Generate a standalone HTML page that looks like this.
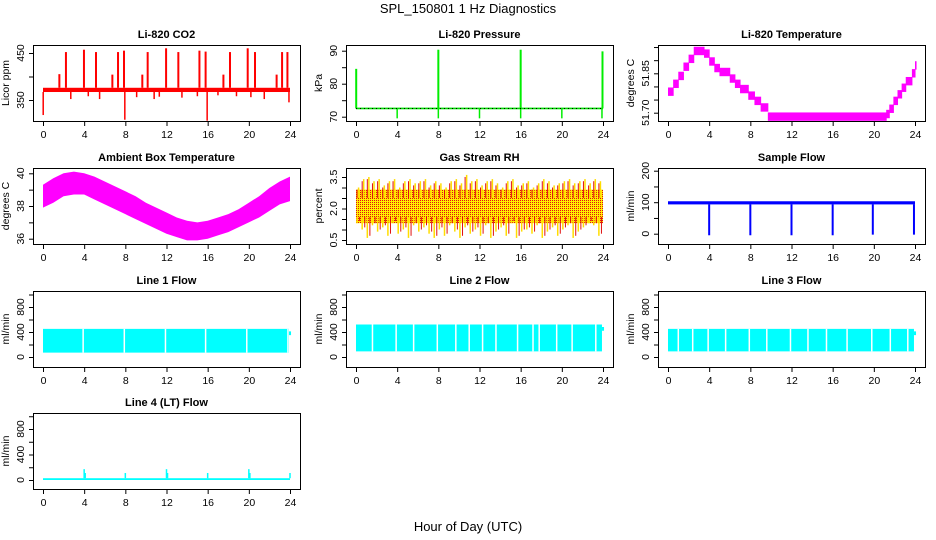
<!DOCTYPE html>
<html><head><meta charset="utf-8">
<style>
html,body{margin:0;padding:0;background:#fff;}
svg{display:block;font-family:"Liberation Sans",Arial,sans-serif;}
.tl{font-size:10.5px;fill:#000;}
.tt{font-size:11px;font-weight:bold;fill:#000;}
</style></head>
<body>
<svg id="c" width="936" height="540" viewBox="0 0 936 540">
<text x="468" y="13" text-anchor="middle" font-size="13">SPL_150801  1 Hz Diagnostics</text>
<text x="468" y="531" text-anchor="middle" font-size="13">Hour of Day (UTC)</text>
</svg>
<script>
// ---------- data ----------
const xTicks = [0,4,8,12,16,20,24];
// CO2
const co2BaseLow = 367, co2BaseHigh = 376;
const co2SpikeHours = [1.59,2.23,3.98,5.15,6.74,7.29,7.87,9.65,10.17,11.96,13.15,15.2,15.8,17.53,18.17,19.89,20.6,22.7,23.23,23.75];
const co2SpikeVals  = [405,452,457,452,404,452,455,404,452,460,452,455,453,404,452,460,452,404,452,452];
const co2DipHours = [0.02,2.7,4.4,5.5,7.95,9.1,10.8,11.3,13.5,15.0,15.95,17.0,18.8,20.2,21.5,23.9];
const co2DipVals  = [318,352,358,352,308,356,352,357,355,358,306,360,358,356,352,345];
// Pressure
const presBase = 72.5;
const presSpikeHours = [0.02,8.0,16.0,23.95];
const presSpikeVals = [84.5,90.3,90.3,89.8];
const presDipHours = [4.0,8.0,12.0,16.0,20.0,23.9];
const presDipVals = [69.5,69.5,69.5,69.5,69.5,69.5];
// Li-820 temperature (step)
const ltHours = [0,0.5,1.0,1.5,2.0,2.5,3.5,4.0,4.5,5.0,6.0,6.5,7.0,7.8,8.4,9.0,9.7,21.2,21.5,21.9,22.3,22.7,23.1,23.7,24.0];
const ltVals  = [51.78,51.81,51.84,51.875,51.905,51.935,51.925,51.895,51.87,51.855,51.83,51.81,51.79,51.765,51.745,51.72,51.685,51.695,51.715,51.745,51.77,51.795,51.82,51.85,51.88];
// Ambient temperature envelope (hourly)
const ambHours = [0,1,2,3,4,5,6,7,8,9,10,11,12,13,14,15,16,17,18,19,20,21,22,23,24];
const ambLow  = [37.9,38.2,38.6,38.7,38.7,38.4,38.1,37.8,37.5,37.2,36.9,36.6,36.3,36.1,35.9,35.9,36.0,36.2,36.4,36.7,37.0,37.3,37.7,38.1,38.3];
const ambHigh = [39.3,39.7,40.0,40.1,40.0,39.8,39.5,39.2,38.9,38.6,38.2,37.9,37.6,37.3,37.1,37.0,37.1,37.3,37.5,37.8,38.2,38.6,39.1,39.5,39.8];
// Gas stream RH (half-hour max / min)
const rhMax = [3.0,3.4,3.5,3.3,3.4,3.1,3.3,3.4,3.0,3.3,3.4,3.2,3.3,3.4,3.1,3.3,3.2,3.0,3.3,3.4,3.2,3.6,3.3,3.4,3.1,3.3,3.4,3.2,3.0,3.3,3.4,3.1,3.2,3.3,3.0,3.2,3.4,3.3,3.1,3.2,3.3,3.4,3.2,3.3,3.4,3.2,3.4,3.3];
const rhMin = [1.3,1.0,0.6,1.2,0.9,1.1,0.7,1.3,0.8,1.0,0.6,1.2,0.9,1.1,0.8,0.6,1.0,0.7,1.2,0.9,0.6,1.1,0.8,1.0,0.7,1.2,0.6,0.9,1.1,0.7,1.3,0.6,0.9,1.0,0.8,1.2,0.6,0.9,1.1,0.7,1.0,1.2,0.6,0.9,1.1,1.3,1.2,0.7];
// Sample flow
const sfLow = 93, sfHigh = 103;
const sfDipHours = [4.0,8.0,12.0,16.0,19.9,23.9];
const sfDipVals = [-5,-5,-5,-5,-3,-3];
// Line flows
const l1Low = 70, l1High = 450;
const l1GapHours = [3.9,7.9,11.9,15.8,19.8,23.8];
const l2Low = 90, l2High = 520;
const l2GapHours = [1.6,3.9,5.6,7.9,9.7,11.0,12.3,13.6,15.7,17.2,17.8,19.5,21.0,23.3];
const l3Low = 90, l3High = 450;
const l3GapHours = [1.0,2.4,3.9,5.6,7.9,9.6,11.9,13.6,15.4,17.4,19.8,21.6,23.3];
const l4Low = 0, l4High = 28;
const l4SpikeHours = [4.0,4.1,8.0,12.0,12.1,16.0,20.0,20.1,24.0];
const l4SpikeVals = [170,110,110,170,110,110,170,110,110];

// ---------- layout ----------
const NS = "http://www.w3.org/2000/svg";
const svg = document.getElementById('c');
const colX = [33,346,658], rowY = [45,168,291,413], BW = 267, BH = 76;
function mk(tag, attrs, parent){
  const e = document.createElementNS(NS, tag);
  for (const k in attrs) e.setAttribute(k, attrs[k]);
  (parent||svg).appendChild(e);
  return e;
}
function panel(col,row,title,ylab,yRef,ticks,labels,fmt,name){
  const g = mk('g',{});
  
  
  const x0 = colX[col], y0 = rowY[row];
  const xs = t => x0 + 10 + t*247/24;
  const k = (yRef[3]-yRef[1])/(yRef[2]-yRef[0]);
  const ys = v => y0 + yRef[1] + (v - yRef[0])*k;
  const plot = mk('g',{'clip-path':'url(#clip'+col+row+')'},g);
  
  
  const cp = mk('clipPath',{id:'clip'+col+row},g);
  mk('rect',{x:x0,y:y0,width:BW,height:BH},cp);
  const box = mk('rect',{x:x0+0.5,y:y0+0.5,width:BW,height:BH,fill:'none',stroke:'#000','stroke-width':1},g);
  
  
  const tt = mk('text',{x:x0+BW/2,y:y0-7,'text-anchor':'middle',class:'tt'},g);
  tt.textContent = title;
  
  
  mk('line',{x1:xs(0),x2:xs(24),y1:y0+BH+0.5,y2:y0+BH+0.5,stroke:'#000'},g);
  xTicks.forEach(t=>{
    mk('line',{x1:xs(t)+0.5,x2:xs(t)+0.5,y1:y0+BH,y2:y0+BH+5,stroke:'#000'},g);
    const l = mk('text',{x:xs(t)+0.5,y:y0+BH+17,'text-anchor':'middle',class:'tl'},g);
    l.textContent = t;
    
    
  });
  ticks.forEach(v=>{
    mk('line',{x1:x0-4,x2:x0,y1:ys(v)+0.5,y2:ys(v)+0.5,stroke:'#000'},g);
  });
  mk('line',{x1:x0+0.5,x2:x0+0.5,y1:ys(ticks[0]),y2:ys(ticks[ticks.length-1]),stroke:'#000'},g);
  labels.forEach(v=>{
    const yy = ys(v), xx = x0-9;
    const l = mk('text',{x:xx,y:yy,'text-anchor':'middle',class:'tl',transform:'rotate(-90 '+xx+' '+yy+')'},g);
    l.textContent = fmt(v);
    
    
  });
  const yl = mk('text',{x:x0-24,y:y0+BH/2,'text-anchor':'middle',class:'tl',transform:'rotate(-90 '+(x0-24)+' '+(y0+BH/2)+')'},g);
  yl.textContent = ylab;
  
  
  return {xs,ys,plot};
}
function vline(p,t,a,b,color,w){
  mk('line',{x1:p.xs(t),x2:p.xs(t),y1:p.ys(a),y2:p.ys(b),stroke:color,'stroke-width':w||1.5},p.plot);
}
function band(p,t0,t1,lo,hi,color){
  const y1 = p.ys(hi), y2 = p.ys(lo);
  mk('rect',{x:p.xs(t0),y:Math.min(y1,y2),width:p.xs(t1)-p.xs(t0),height:Math.abs(y2-y1),fill:color},p.plot);
}
const defs = mk('defs',{});
const pat = mk('pattern',{id:'rhdots',width:2,height:2,patternUnits:'userSpaceOnUse'},defs);
mk('rect',{x:0,y:0,width:1,height:1,fill:'#e01010'},pat);

let p = panel(0,0,'Li-820 CO2','Licor ppm',[450,8,350,55],[350,400,450],[350,450],v=>v,'co2');
band(p,0,24,co2BaseLow,co2BaseHigh,'#ff0000');
co2SpikeHours.forEach((t,i)=>vline(p,t,co2BaseHigh,co2SpikeVals[i],'#ff0000',2));
co2DipHours.forEach((t,i)=>vline(p,t,co2BaseLow,co2DipVals[i],'#ff0000',1.5));

p = panel(1,0,'Li-820 Pressure','kPa',[90,5.7,70,71.7],[70,75,80,85,90],[70,80,90],v=>v,'pressure');
band(p,0,24,presBase-0.25,presBase+0.25,'#00dd00');
presSpikeHours.forEach((t,i)=>vline(p,t,presBase,presSpikeVals[i],'#00ee00',2));
presDipHours.forEach((t,i)=>vline(p,t,presBase,presDipVals[i],'#00ee00',1.5));
mk('line',{x1:p.xs(0),x2:p.xs(24),y1:p.ys(presBase),y2:p.ys(presBase),stroke:'#000','stroke-dasharray':'1,3','stroke-width':1},p.plot);

p = panel(2,0,'Li-820 Temperature','degrees C',[51.85,28.3,51.70,67.7],[51.70,51.75,51.80,51.85,51.90,51.95],[51.70,51.85],v=>v.toFixed(2),'li820-temp');
for(let i=0;i<ltHours.length;i++){
  const t0 = ltHours[i], t1 = i<ltHours.length-1 ? ltHours[i+1]+0.05 : ltHours[i]+0.15;
  band(p,t0,t1,ltVals[i]-0.016,ltVals[i]+0.016,'#ff00ff');
}

p = panel(0,1,'Ambient Box Temperature','degrees C',[40,5.3,36,70.7],[36,37,38,39,40],[36,38,40],v=>v,'ambient-temp');
let pts = ambHours.map((t,i)=>p.xs(t)+','+p.ys(ambHigh[i])).concat(ambHours.slice().reverse().map((t,j)=>{const i=ambHours.length-1-j;return p.xs(t)+','+p.ys(ambLow[i]);}));
mk('polygon',{points:pts.join(' '),fill:'#ff00ff'},p.plot);

p = panel(1,1,'Gas Stream RH','percent',[3.5,9,0.5,72],[0.5,1.0,1.5,2.0,2.5,3.0,3.5],[0.5,2.0,3.5],v=>v.toFixed(1),'gas-stream-rh');
band(p,0,24,1.3,2.9,'#ffee00');
band(p,0,24,1.3,2.9,'url(#rhdots)');
rhMax.forEach((v,i)=>{vline(p,i*0.5+0.25,2.5,v,'#ffdd00',1.5); vline(p,i*0.5+0.1,2.5,v-0.1,'#e01010',1);});
rhMin.forEach((v,i)=>{vline(p,i*0.5+0.1,1.6,v,'#ffdd00',1.5); vline(p,i*0.5+0.35,1.6,v+0.1,'#e01010',1);});

p = panel(2,1,'Sample Flow','ml/min',[200,2.7,0,65.7],[0,50,100,150,200],[0,100,200],v=>v,'sample-flow');
band(p,0,24,sfLow,sfHigh,'#0000ff');
sfDipHours.forEach((t,i)=>vline(p,t,sfLow,sfDipVals[i],'#0000ff',2));

const flowTicks=[0,200,400,600,800,1000], flowLabels=[0,400,800];
function flowPanel(col,row,title,name,lo,hi,gaps){
  const q = panel(col,row,title,'ml/min',[800,16,0,66],flowTicks,flowLabels,v=>v,name);
  band(q,0,23.9,lo,hi,'#00ffff');
  gaps.forEach(t=>vline(q,t,lo,hi,'#ffffff',1.5));
  band(q,23.9,24.1,hi-100,hi-40,'#00ffff');
  return q;
}
flowPanel(0,2,'Line 1 Flow','line1-flow',l1Low,l1High,l1GapHours);
flowPanel(1,2,'Line 2 Flow','line2-flow',l2Low,l2High,l2GapHours);
flowPanel(2,2,'Line 3 Flow','line3-flow',l3Low,l3High,l3GapHours);
p = panel(0,3,'Line 4 (LT) Flow','ml/min',[800,16,0,67],flowTicks,flowLabels,v=>v,'line4-flow');
band(p,0,24,l4Low,l4High,'#00ffff');
l4SpikeHours.forEach((t,i)=>vline(p,t,l4High,l4SpikeVals[i],'#00ffff',1.5));
</script>
</body></html>
